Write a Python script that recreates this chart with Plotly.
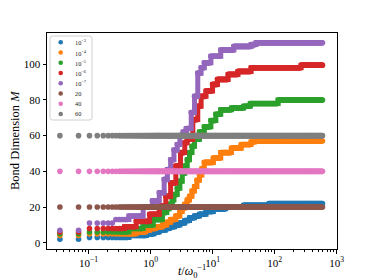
import numpy as np
import plotly.graph_objects as go

# ---------------- data ----------------
# simulation time grid: t = n * dt
dt = 0.0345
n_last = 17100

series_names = ["10<sup>−3</sup>", "10<sup>−4</sup>", "10<sup>−5</sup>", "10<sup>−6</sup>",
                "10<sup>−7</sup>", "20", "40", "60"]
colors = ["#1f77b4", "#ff7f0e", "#2ca02c", "#d62728", "#9467bd",
          "#8c564b", "#e377c2", "#7f7f7f"]

# bond dimension step changes: log10(t) at which M changes, new M
blue_logt = [-2.0, -1.0, -0.35, -0.08, 0.05, 0.134, 0.22, 0.296, 0.38, 0.457, 0.54, 0.62,
             0.70, 0.78, 0.887, 1.0, 1.2, 1.5, 1.9]
blue_M = [2, 3, 4, 5, 6, 7, 8, 9, 10, 11, 12.5, 14, 15, 16, 17.5, 19, 20, 21, 22]

orange_logt = [-2.0, -1.0, -0.24, -0.1, -0.027, 0.08, 0.19, 0.26, 0.32, 0.39, 0.457, 0.50,
               0.54, 0.58, 0.62, 0.66, 0.70, 0.74, 0.78, 0.82, 0.86, 1.0, 1.13, 1.29, 1.45,
               1.61, 1.67]
orange_M = [4, 5, 6, 7, 8, 9, 10, 11.5, 13, 15, 17.5, 19.5, 21.5, 24, 26, 29, 31.5, 35, 38,
            41.5, 45, 47.5, 50.5, 53, 55, 56.5, 57]

green_logt = [-2.0, -1.0, -0.35, -0.13, 0.03, 0.188, 0.25, 0.296, 0.34, 0.376, 0.42, 0.457,
              0.50, 0.54, 0.58, 0.62, 0.66, 0.70, 0.78, 0.86, 0.97, 1.05, 1.13, 1.3, 1.5,
              1.6, 2.05]
green_M = [5, 6, 8, 10, 13, 17, 19, 21.5, 24, 27, 30.5, 34.5, 39, 43, 46.5, 50.5, 54, 58,
           62, 65, 68.5, 72, 74.5, 75.5, 76.5, 78, 80]

red_logt = [-2.0, -1.0, -0.46, -0.24, -0.027, 0.134, 0.24, 0.32, 0.40, 0.48, 0.54, 0.59,
            0.67, 0.75, 0.806, 0.887, 0.995, 1.075, 1.237, 1.40, 1.61, 2.42]
red_M = [6, 8, 9, 12, 16, 20.5, 26, 33.5, 43, 50.5, 56, 58, 69, 76.5, 82, 85, 88.7, 91.5,
         94.3, 96, 98, 99.5]

purple_logt = [-2.0, -1.0, -0.565, -0.35, -0.134, 0.027, 0.134, 0.215, 0.27, 0.32, 0.376,
               0.42, 0.47, 0.52, 0.565, 0.645, 0.70, 0.75, 0.806, 0.86, 0.968, 1.13, 1.34,
               1.61, 1.69]
purple_M = [7, 11, 13, 15, 20, 23.5, 28, 35.5, 41, 46.5, 52, 55, 60, 62, 64, 73, 82, 95, 98,
            100.8, 104.5, 108, 110, 111, 112]

brown_logt = [-2.0]
brown_M = [20]
pink_logt = [-2.0]
pink_M = [40]
gray_logt = [-2.0]
gray_M = [60]

y_ticks = [0, 20, 40, 60, 80, 100]
x_ticks = [0.1, 1, 10, 100, 1000]
x_ticktext = ["10<sup>−1</sup>", "10<sup>0</sup>", "10<sup>1</sup>", "10<sup>2</sup>", "10<sup>3</sup>"]

# ---------------- build ----------------
n_vals = sorted(set(list(range(1, 41)) +
                    [int(round(v)) for v in np.geomspace(40, n_last, 200)]))
t = np.array(n_vals) * dt
logt = np.log10(t)

bp = [(blue_logt, blue_M), (orange_logt, orange_M), (green_logt, green_M),
      (red_logt, red_M), (purple_logt, purple_M), (brown_logt, brown_M),
      (pink_logt, pink_M), (gray_logt, gray_M)]

MS = 5.6
fig = go.Figure()
for (lt, mv), c, name in zip(bp, colors, series_names):
    idx = np.searchsorted(np.array(lt), logt, side="right") - 1
    m = np.array(mv, dtype=float)[idx]
    dense = t > 0.3
    # dense marker run: merged markers look like a thick band
    fig.add_trace(go.Scatter(x=t[dense], y=m[dense], mode="lines", line_shape="hv",
                             line=dict(color=c, width=MS - 0.6), hoverinfo="skip",
                             showlegend=False))
    fig.add_trace(go.Scatter(x=t, y=m, mode="markers", name=name,
                             marker=dict(size=MS, color=c, line=dict(width=0)),
                             showlegend=False))

# page body margin offsets the figure by 8px; lay out in window pixels
OFF = 8
WIN_W, WIN_H = 374, 280
PL, PR, PT, PB = 47, 337, 33, 249          # plot box in window pixels
W, H = WIN_W - OFF, WIN_H - OFF
L_, T_ = PL - OFF, PT - OFF
R_, B_ = W - (PR - OFF), H - (PB - OFF)
pw, ph = PR - PL, PB - PT

def px(x):
    return (x - PL) / pw

def py(y):
    return (PB - y) / ph

FONT = "Liberation Serif"

# legend (custom, matplotlib-like compact box)
bx0, bx1, by0, by1, r = px(50), px(92), py(36), py(120), 2.5
rx, ry = r / pw, r / ph
path = (f"M {bx0+rx},{by0} L {bx1-rx},{by0} Q {bx1},{by0} {bx1},{by0-ry} "
        f"L {bx1},{by1+ry} Q {bx1},{by1} {bx1-rx},{by1} L {bx0+rx},{by1} "
        f"Q {bx0},{by1} {bx0},{by1+ry} L {bx0},{by0-ry} Q {bx0},{by0} {bx0+rx},{by0} Z")
shapes = [dict(type="path", xref="paper", yref="paper", path=path,
               line=dict(color="#d0d0d0", width=1), fillcolor="rgba(255,255,255,0.8)",
               layer="above")]
annotations = []
for i, (c, name) in enumerate(zip(colors, series_names)):
    yy = py(42.3 + 10.24 * i)
    shapes.append(dict(type="circle", xref="paper", yref="paper",
                       xsizemode="pixel", ysizemode="pixel",
                       xanchor=px(60.7), yanchor=yy, x0=-2.3, x1=2.3, y0=-2.3, y1=2.3,
                       fillcolor=c, line=dict(width=0), layer="above"))
    annotations.append(dict(x=px(72.5), y=yy, xref="paper", yref="paper", text=name,
                            showarrow=False, xanchor="left", yanchor="middle",
                            font=dict(family=FONT, size=6.3, color="#222")))

# axis titles
annotations.append(dict(x=0.5, y=py(271), xref="paper", yref="paper",
                        text="<i>t</i>/<i>ω</i><sub>0</sub><sup>−1</sup>",
                        showarrow=False, xanchor="center", yanchor="middle",
                        font=dict(family=FONT, size=12, color="black")))
annotations.append(dict(x=px(15), y=py(141), xref="paper", yref="paper",
                        text="Bond Dimension <i>M</i>", textangle=-90,
                        showarrow=False, xanchor="center", yanchor="middle",
                        font=dict(family=FONT, size=12.5, color="black")))

axis_common = dict(showline=True, linecolor="black", linewidth=1, mirror=True,
                   ticks="outside", tickcolor="black", ticklen=3.5, tickwidth=0.8,
                   showgrid=False, zeroline=False, automargin=False,
                   tickfont=dict(family=FONT, size=11, color="black"))

minor_vals = [m * 10.0 ** e for e in range(-2, 3) for m in range(2, 10)]

fig.update_layout(
    width=W, height=H,
    margin=dict(l=L_, r=R_, t=T_, b=B_, pad=0, autoexpand=False),
    paper_bgcolor="white", plot_bgcolor="white",
    showlegend=False,
    xaxis=dict(type="log", range=[-1.67, 3.005], tickvals=x_ticks, ticktext=x_ticktext,
               minor=dict(tickvals=minor_vals, ticks="outside", ticklen=2,
                          tickcolor="black", tickwidth=0.6, showgrid=False),
               **axis_common),
    yaxis=dict(range=[-3.5, 117.5], tickvals=y_ticks, **axis_common),
    shapes=shapes,
    annotations=annotations,
)

fig.write_html("out.html")
